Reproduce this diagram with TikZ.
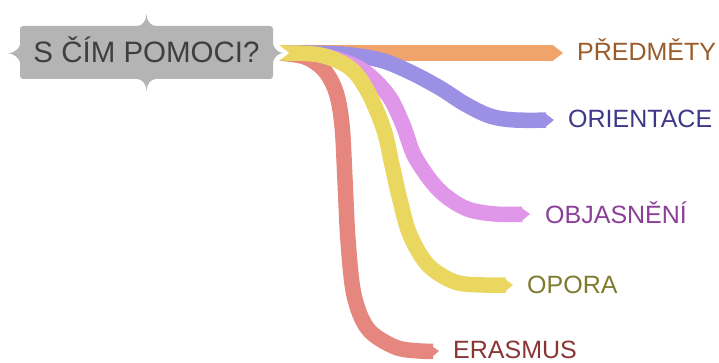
\documentclass[tikz,border=0pt]{standalone}
\usepackage{fontspec}
\setmainfont{Liberation Sans}
\usetikzlibrary{arrows.meta}
\definecolor{rOr}{HTML}{F0A46C}
\definecolor{tOr}{HTML}{9A5B2B}
\definecolor{rPu}{HTML}{9B90E4}
\definecolor{tPu}{HTML}{3E3889}
\definecolor{rPk}{HTML}{E197E9}
\definecolor{tPk}{HTML}{8C3F99}
\definecolor{rYe}{HTML}{EAD760}
\definecolor{tYe}{HTML}{7E7A2E}
\definecolor{rRe}{HTML}{E6877F}
\definecolor{tRe}{HTML}{8A3434}
\definecolor{rootgray}{HTML}{B4B4B4}
\definecolor{roottext}{HTML}{3F3F3F}
\begin{document}
\begin{tikzpicture}[x=1pt,y=-1pt,
  ribbon/.style={line width=15.5pt,-{Triangle[length=10pt,width=15.5pt,line width=0pt]}},
  lbl/.style={anchor=base west,inner sep=0pt,font=\fontsize{25}{25}\selectfont},
]
\useasboundingbox (0,0) rectangle (719,363);
% anchor points
\coordinate (start) at (279,53);
\coordinate (tOrTip) at (563,53);
\coordinate (tPuTip) at (554,120);
\coordinate (tPkTip) at (530,214);
\coordinate (tYeTip) at (513,285);
\coordinate (tReTip) at (439,351);
% ribbons
\draw[ribbon,rOr] (start) -- (tOrTip);
\draw[ribbon,rPu] plot[smooth,tension=0.55] coordinates {(start) (340,54) (380,60) (410,72) (440,88) (465,104) (490,116) (515,120) (tPuTip)};
\draw[ribbon,rPk] plot[smooth,tension=0.55] coordinates {(start) (325,56) (362,70) (388,95) (403,125) (415,157) (438,189) (465,208) (495,214) (tPkTip)};
\draw[ribbon,rRe] plot[smooth,tension=0.55] coordinates {(start) (305,57) (324,70) (336,92) (342,125) (345,180) (348,240) (354,295) (368,329) (395,347) (420,351) (tReTip)};
\draw[ribbon,rYe] plot[smooth,tension=0.55] coordinates {(start) (320,55) (350,68) (368,92) (384,130) (392,165) (400,200) (410,235) (428,265) (455,282) (485,285) (tYeTip)};
% notch at ribbon start
\fill[white] (275,42) -- (289,53) -- (275,64) -- cycle;
% root shape
\fill[rootgray] (20,29) .. controls (20,27.3) and (21.3,26) .. (23,26)
  -- (137,26) .. controls (142,26) and (146.5,21) .. (146.5,14)
  .. controls (146.5,21) and (151,26) .. (156,26)
  -- (270,26) .. controls (271.7,26) and (273,27.3) .. (273,29)
  -- (273,44) .. controls (274,49) and (279,53) .. (283,53)
  .. controls (279,53) and (274,57) .. (273,62)
  -- (273,76) .. controls (273,77.7) and (271.7,79) .. (270,79)
  -- (156,79) .. controls (151,79) and (146.5,84) .. (146.5,91)
  .. controls (146.5,84) and (142,79) .. (137,79)
  -- (23,79) .. controls (21.3,79) and (20,77.7) .. (20,76)
  -- (20,62) .. controls (19,58) and (13,53.3) .. (8.5,53.3)
  .. controls (13,53.3) and (19,49) .. (20,45) -- cycle;
\node[anchor=base,inner sep=0pt,font=\fontsize{29.5}{30}\selectfont,text=roottext] (root) at (146.5,62.3) {S ČÍM POMOCI?};
% labels
\node[lbl,text=tOr] (lOr) at (577,61) {PŘEDMĚTY};
\node[lbl,text=tPu] (lPu) at (568,128) {ORIENTACE};
\node[lbl,text=tPk] (lPk) at (545,223) {OBJASNĚNÍ};
\node[lbl,text=tYe] (lYe) at (527,293) {OPORA};
\node[lbl,text=tRe] (lRe) at (453,358.5) {ERASMUS};
\end{tikzpicture}
\end{document}
